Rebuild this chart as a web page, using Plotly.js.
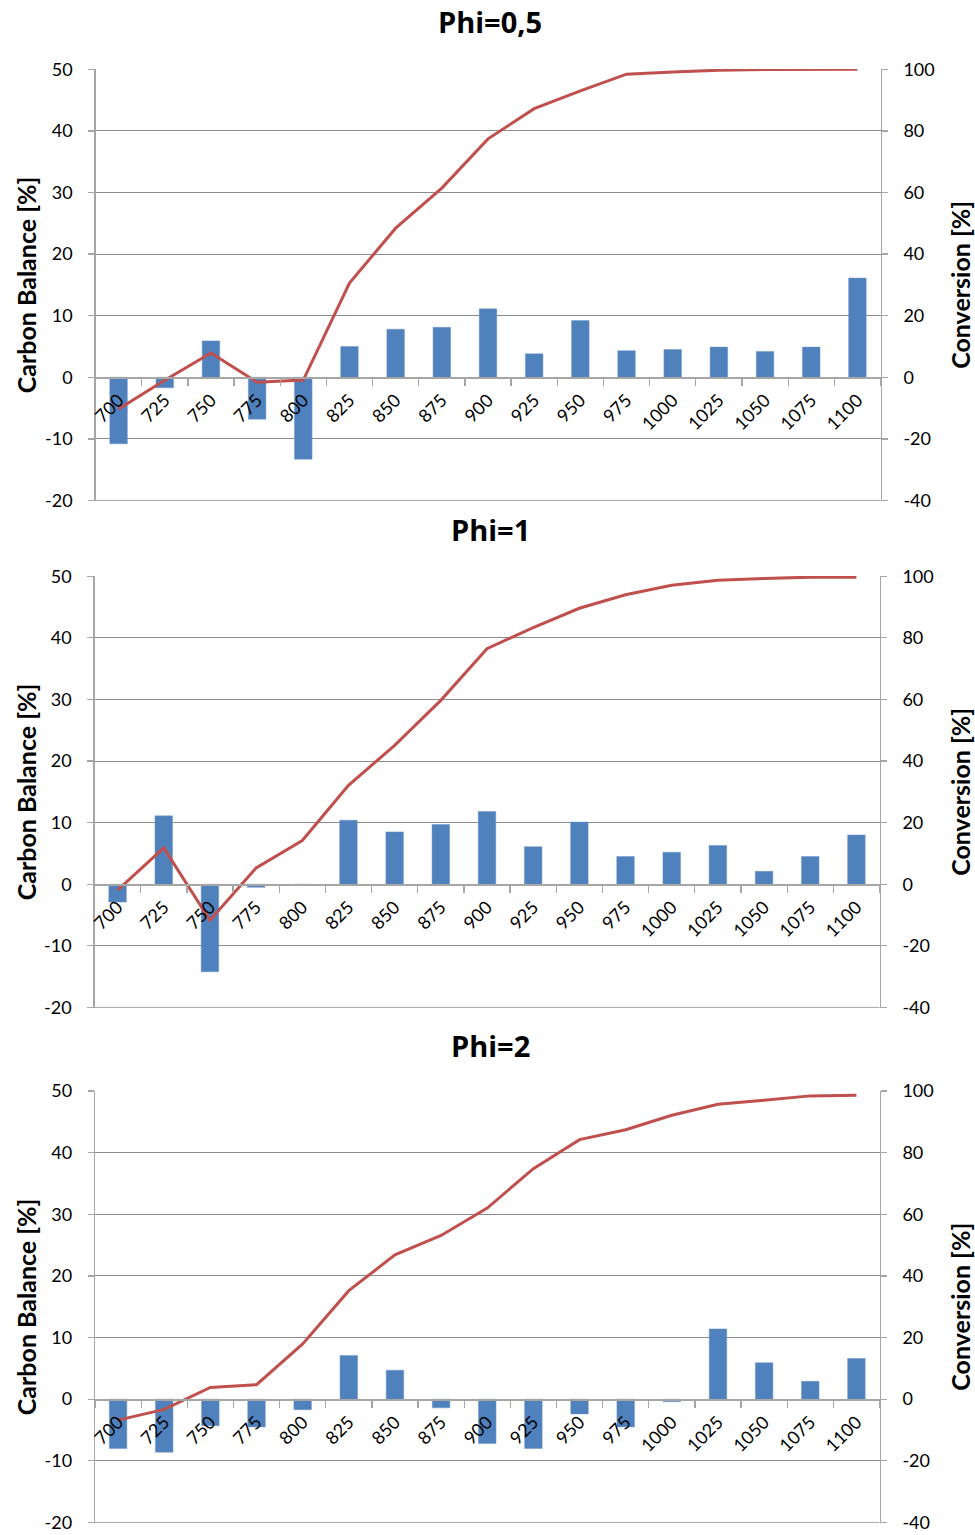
<!DOCTYPE html>
<html>
<head>
<meta charset="utf-8">
<script src="https://cdn.plot.ly/plotly-3.0.1.min.js"></script>
<style>html,body{margin:0;padding:0;background:#fff}</style>
</head>
<body>
<div id="chart" style="width:975px;height:1535px"></div>
<script>
// ---- data ----
const categories = ['700','725','750','775','800','825','850','875','900','925','950','975','1000','1025','1050','1075','1100'];

const panelTitles = ['Phi=0,5', 'Phi=1', 'Phi=2'];
const leftAxisTitle = 'Carbon Balance [%]';
const rightAxisTitle = 'Conversion [%]';

const carbonBalancePhi05 = [-10.8, -1.7, 5.9, -6.8, -13.3, 5.0, 7.8, 8.1, 11.1, 3.8, 9.2, 4.3, 4.5, 4.9, 4.2, 4.9, 16.1];
const conversionPhi05    = [-10.3, -1.0, 7.9, -1.6, -0.9, 30.6, 48.4, 61.4, 77.4, 87.2, 93.0, 98.4, 99.1, 99.7, 99.9, 99.9, 100];

const carbonBalancePhi1  = [-2.9, 11.1, -14.2, -0.5, -0.2, 10.4, 8.5, 9.7, 11.8, 6.1, 10.1, 4.5, 5.2, 6.3, 2.1, 4.5, 8.0];
const conversionPhi1     = [-1.9, 11.8, -11.7, 5.3, 14.2, 32.1, 45.1, 59.7, 76.5, 83.3, 89.6, 94.0, 97.1, 98.7, 99.3, 99.7, 99.7];

const carbonBalancePhi2  = [-8.0, -8.6, -4.3, -4.5, -1.7, 7.1, 4.7, -1.4, -7.2, -8.0, -2.4, -4.5, -0.4, 11.4, 5.9, 2.9, 6.6];
const conversionPhi2     = [-6.8, -3.3, 3.8, 4.7, 17.9, 35.2, 46.8, 53.1, 62.0, 74.8, 84.2, 87.4, 92.1, 95.7, 97.0, 98.4, 98.6];

const leftTicks = [-20, -10, 0, 10, 20, 30, 40, 50];
const leftTickLabels = ['-20', '-10', '0', '10', '20', '30', '40', '50'];
const rightTicks = [-40, -20, 0, 20, 40, 60, 80, 100];
const rightTickLabels = ['-40', '-20', '0', '20', '40', '60', '80', '100'];

// ---- layout geometry (pixels) ----
const W = 975, H = 1535;
const boxes = [
  {top: 69,    bottom: 500.7,  left: 95.5, right: 880.5, titleY: 22},
  {top: 576,   bottom: 1007.7, left: 94.5, right: 879.5, titleY: 530},
  {top: 1090.7,bottom: 1522.7, left: 95,   right: 879.5, titleY: 1045}
];
const cbSeries = [carbonBalancePhi05, carbonBalancePhi1, carbonBalancePhi2];
const convSeries = [conversionPhi05, conversionPhi1, conversionPhi2];

const FONT = 'Lato, "Open Sans", sans-serif';
const TITLEFONT = '"Open Sans", Lato, sans-serif';
const GRID = '#8c8c8c';
const AXIS = '#a6a6a6';

const data = [];
const layout = {
  width: W, height: H,
  margin: {l: 0, r: 0, t: 0, b: 0},
  paper_bgcolor: '#fff', plot_bgcolor: '#fff',
  showlegend: false,
  bargap: 0.62,
  font: {family: FONT, color: '#000'},
  annotations: [],
  shapes: []
};

boxes.forEach((b, i) => {
  const xs = i === 0 ? '' : String(i + 1);
  const yl = i === 0 ? '' : String(2 * i + 1);
  const yr = String(2 * i + 2);
  const yd0 = 1 - b.bottom / H, yd1 = 1 - b.top / H;
  const zeroPos = yd0 + (yd1 - yd0) * (20 / 70);
  const midY = 1 - (b.top + b.bottom) / 2 / H;

  data.push({
    type: 'bar', x: categories, y: cbSeries[i],
    xaxis: 'x' + xs, yaxis: 'y' + yl,
    marker: {color: '#4F81BD', line: {color: '#6f97c9', width: 0.5}},
    name: 'Carbon Balance', hoverinfo: 'x+y'
  });
  data.push({
    type: 'scatter', mode: 'lines', x: categories, y: convSeries[i],
    xaxis: 'x' + xs, yaxis: 'y' + yr,
    line: {color: '#C0504D', width: 3},
    name: 'Conversion', hoverinfo: 'x+y'
  });

  layout['xaxis' + xs] = {
    domain: [b.left / W, b.right / W],
    anchor: 'free', position: zeroPos,
    type: 'category', range: [-0.5, 16.5],
    showline: true, linecolor: AXIS, linewidth: 1.3,
    ticks: 'outside', tickson: 'boundaries', ticklen: 7, tickcolor: AXIS, tickwidth: 1.3,
    tickangle: -45, tickfont: {family: FONT, size: 18, color: '#000'},
    ticklabelstandoff: 4,
    showgrid: false, zeroline: false, fixedrange: true
  };
  layout['yaxis' + yl] = {
    domain: [yd0, yd1], anchor: 'x' + xs,
    range: [-20.04, 50.04], tickvals: leftTicks, ticktext: leftTickLabels,
    showgrid: true, gridcolor: GRID, gridwidth: 1,
    showline: true, linecolor: AXIS, linewidth: 1.3,
    ticks: 'outside', ticklen: 6, tickcolor: AXIS, tickwidth: 1.3,
    tickfont: {family: FONT, size: 18, color: '#000'},
    ticklabelstandoff: 12,
    zeroline: false, fixedrange: true
  };
  layout['yaxis' + yr] = {
    overlaying: 'y' + yl, side: 'right', anchor: 'x' + xs,
    range: [-40.08, 100.08], tickvals: rightTicks, ticktext: rightTickLabels,
    showgrid: false,
    showline: true, linecolor: AXIS, linewidth: 1.3,
    ticks: 'outside', ticklen: 6, tickcolor: AXIS, tickwidth: 1.3,
    tickfont: {family: FONT, size: 18, color: '#000'},
    ticklabelstandoff: 12,
    zeroline: false, fixedrange: true
  };
  // bottom gridline at the lowest tick (Plotly drops the edge gridline)
  layout.shapes.push({
    type: 'line', layer: 'below',
    xref: 'x' + xs + ' domain', x0: 0, x1: 1,
    yref: 'y' + yl, y0: leftTicks[0], y1: leftTicks[0],
    line: {color: GRID, width: 1}
  });
  layout.annotations.push({
    text: panelTitles[i], xref: 'paper', yref: 'paper',
    x: 490 / W, y: 1 - b.titleY / H, xanchor: 'center', yanchor: 'middle',
    showarrow: false, font: {family: TITLEFONT, size: 29, weight: 'bold', color: '#000'}
  });
  layout.annotations.push({
    text: leftAxisTitle, xref: 'paper', yref: 'paper', textangle: -90,
    x: 25.5 / W, y: midY, xanchor: 'center', yanchor: 'middle',
    showarrow: false, font: {family: FONT, size: 25, weight: 'bold', color: '#000'}
  });
  layout.annotations.push({
    text: rightAxisTitle, xref: 'paper', yref: 'paper', textangle: -90,
    x: 960 / W, y: midY, xanchor: 'center', yanchor: 'middle',
    showarrow: false, font: {family: FONT, size: 25, weight: 'bold', color: '#000'}
  });
});

Plotly.newPlot('chart', data, layout, {displayModeBar: false, staticPlot: true});
</script>
</body>
</html>
